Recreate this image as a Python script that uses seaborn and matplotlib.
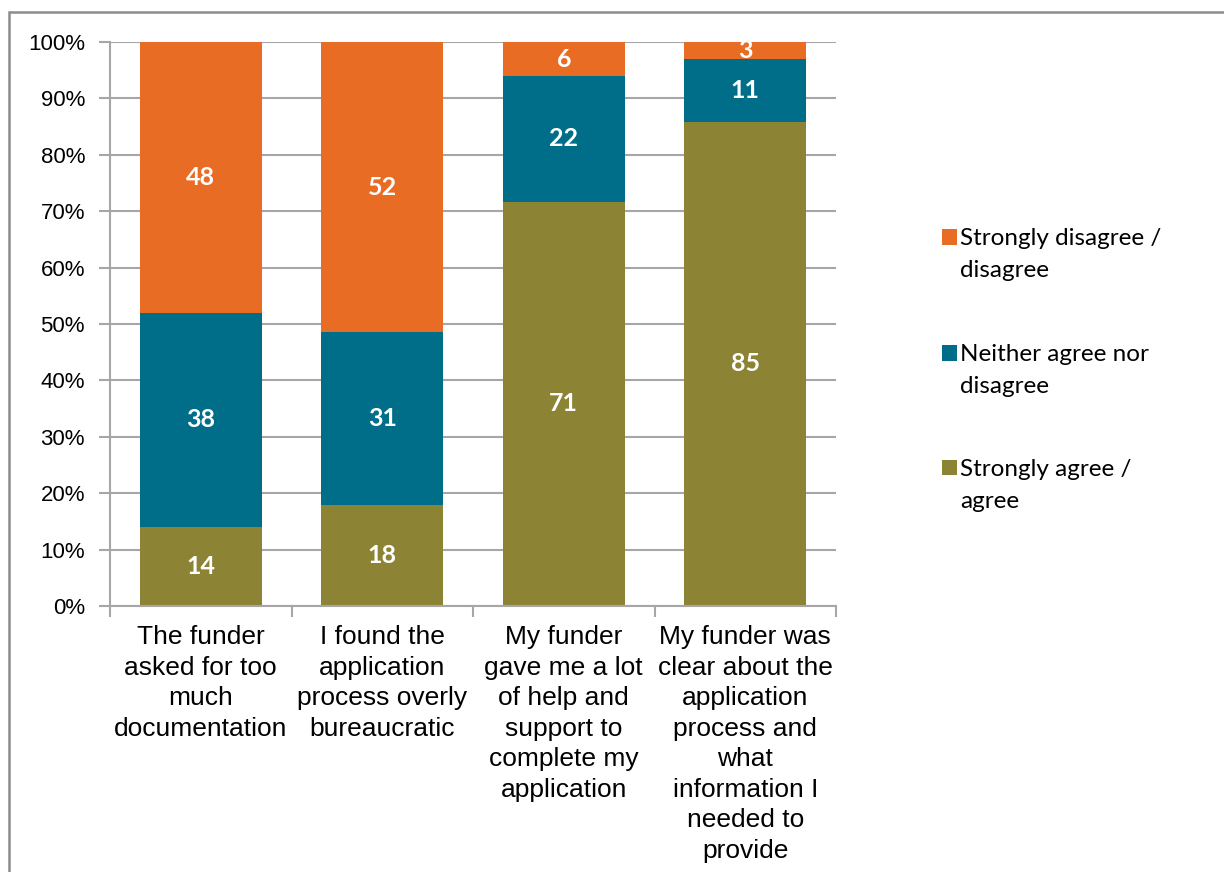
import matplotlib
matplotlib.use("Agg")
import matplotlib.pyplot as plt
from matplotlib.patches import Rectangle
from matplotlib.ticker import FixedLocator, PercentFormatter
import numpy as np
import pandas as pd
import seaborn as sns

statements = [
    "The funder\nasked for too\nmuch\ndocumentation",
    "I found the\napplication\nprocess overly\nbureaucratic",
    "My funder\ngave me a lot\nof help and\nsupport to\ncomplete my\napplication",
    "My funder was\nclear about the\napplication\nprocess and\nwhat\ninformation I\nneeded to\nprovide",
]
agree = [14, 18, 71, 85]
neither = [38, 31, 22, 11]
disagree = [48, 52, 6, 3]

series_names = ["Strongly agree /\nagree", "Neither agree nor\ndisagree", "Strongly disagree /\ndisagree"]
colors = ["#8C8334", "#006E89", "#E96C24"]

sns.set_theme(style="white")
plt.rcParams["font.family"] = ["Liberation Sans", "DejaVu Sans"]

W, H = 1224, 872
raw = np.array([agree, neither, disagree], dtype=float)
share = raw / raw.sum(axis=0) * 100
cum = np.cumsum(share, axis=0)

fig = plt.figure(figsize=(W / 100, H / 100), dpi=100)
ax = fig.add_axes([110 / W, 1 - 606 / H, 726 / W, 564 / H])

# Stacked bars: draw cumulative totals from the top layer down
for i in range(2, -1, -1):
    df = pd.DataFrame({"statement": statements, "value": cum[i]})
    sns.barplot(data=df, x="statement", y="value", color=colors[i],
                width=0.67, saturation=1, linewidth=0, edgecolor="none",
                ax=ax, zorder=2)

# Value labels in the middle of each segment
label_font = dict(family=["Lato", "DejaVu Sans"], weight="bold", size=18, color="white")
for i in range(3):
    base = cum[i] - share[i]
    for j in range(len(statements)):
        ax.text(j, base[j] + share[i][j] / 2, f"{int(raw[i][j])}",
                ha="center", va="center", zorder=3, **label_font)

ax.set_ylim(0, 100)
ax.set_xlim(-0.5, len(statements) - 0.5)
ax.yaxis.set_major_locator(FixedLocator(np.arange(0, 101, 10)))
ax.yaxis.set_major_formatter(PercentFormatter(decimals=0))
ax.grid(axis="y", color="#A6A6A6", linewidth=1.5, zorder=0)
ax.set_axisbelow(True)
ax.set_xlabel("")
ax.set_ylabel("")

for side in ["top", "right"]:
    ax.spines[side].set_visible(False)
for side in ["left", "bottom"]:
    ax.spines[side].set_color("#A6A6A6")
    ax.spines[side].set_linewidth(1.5)

ax.tick_params(axis="y", which="major", direction="out", length=8, width=1.5,
               color="#A6A6A6", labelsize=16, labelcolor="black", pad=10, left=True)
ax.tick_params(axis="x", which="major", length=0, labelsize=19, labelcolor="black", pad=14)
ax.xaxis.set_minor_locator(FixedLocator(np.arange(-0.5, len(statements), 1.0)))
ax.tick_params(axis="x", which="minor", direction="out", length=8, width=1.5,
               color="#A6A6A6", bottom=True)
for lbl in ax.get_xticklabels():
    lbl.set_linespacing(1.34)
    lbl.set_va("top")

# Legend: square swatch beside the first line of each two-line label
legend_rows = [(2, 237), (1, 353), (0, 468)]
for idx, y in legend_rows:
    fig.add_artist(Rectangle((942 / W, 1 - (y + 7.5) / H), 15 / W, 15 / H,
                             transform=fig.transFigure, facecolor=colors[idx],
                             edgecolor="none"))
    fig.text(960 / W, 1 - (y - 9) / H, series_names[idx], ha="left", va="top",
             family=["Lato", "DejaVu Sans"], size=17.5, linespacing=1.63, color="black")

# Outer chart frame
fig.add_artist(Rectangle((8.5 / W, -0.1), 1.2, 1 - 11.5 / H + 0.1,
                         transform=fig.transFigure, fill=False,
                         edgecolor="#8C8C8C", linewidth=1.8))

fig.savefig("out.png", dpi=100)
